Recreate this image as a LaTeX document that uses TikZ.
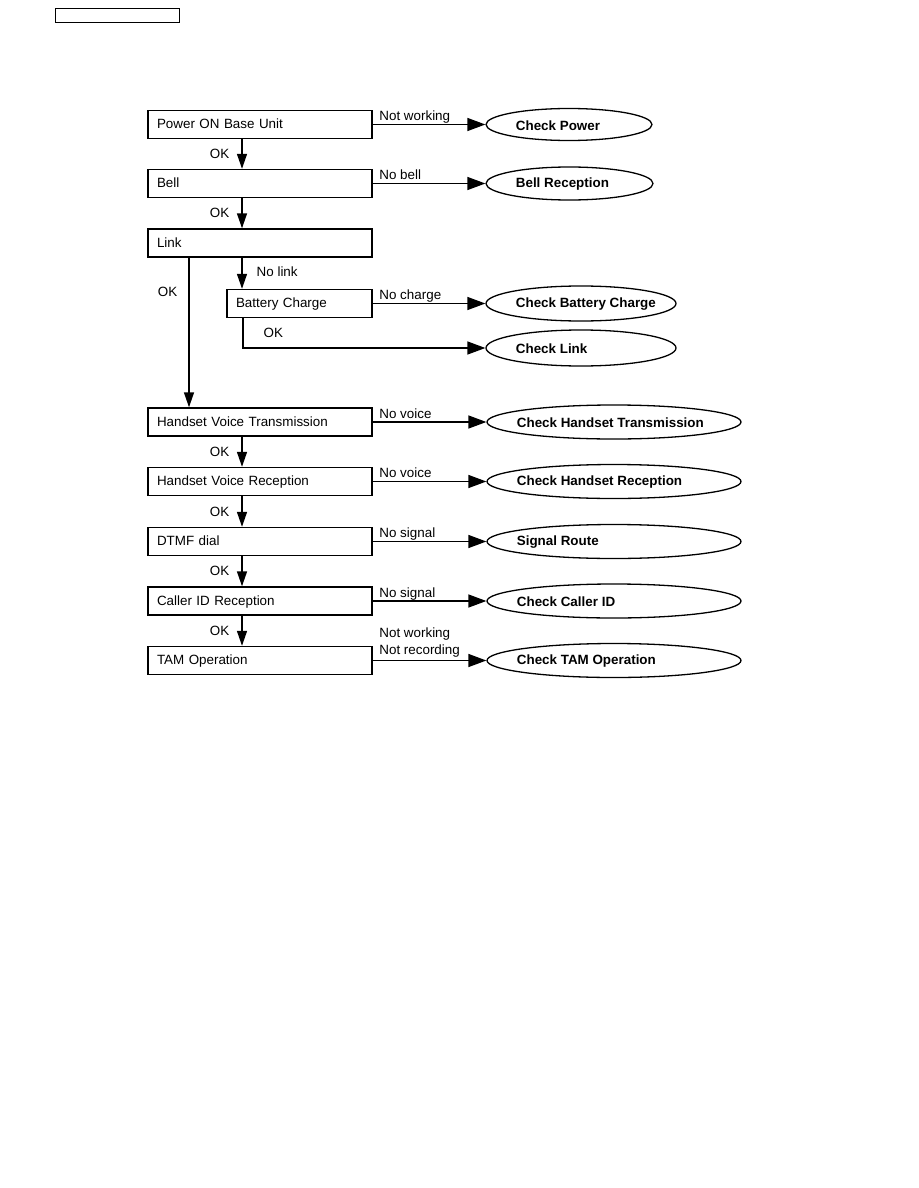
\documentclass[tikz,border=0pt]{standalone}
\usepackage{fontspec}
\setmainfont{Liberation Sans}
\usetikzlibrary{arrows.meta,shapes.geometric}
\begin{document}
\begin{tikzpicture}[x=1pt,y=-1pt,
  txt/.style={font=\fontsize{13.4}{17}\selectfont, inner sep=2pt},
  box/.style={draw, line width=1.4pt, minimum height=28pt, text width=#1, align=left,
    inner xsep=9pt, inner ysep=0pt, text height=9.6pt, text depth=1pt, font=\fontsize{13.4}{17}\selectfont},
  oval/.style={draw, ellipse, line width=1.3pt, minimum width=#1, minimum height=34pt, inner sep=0pt},
  olbl/.style={label={[anchor=west, xshift=27pt, yshift=-1pt, font=\bfseries\fontsize{13.4}{17}\selectfont]west:#1}},
  harr/.style={line width=1.4pt, -{Triangle[length=18pt,width=13pt]}},
  varr/.style={line width=1.4pt, -{Triangle[length=15pt,width=10pt]}},
  hlbl/.style={txt, anchor=base west, xshift=4pt, yshift=4pt},
  ok/.style={txt}
]
\useasboundingbox (0,0) rectangle (918,1188);

\node[draw, line width=1pt, minimum width=124pt, minimum height=14pt, inner sep=0pt] (hdr) at (117,16) {};

% boxes
\node[box=206pt] (pow)  at (260,124.5) {Power ON Base Unit};
\node[box=206pt] (bell) at (260,183.5) {Bell};
\node[box=206pt] (link) at (260,243)   {Link};
\node[box=127pt] (batt) at (299.5,303.5) {Battery Charge};
\node[box=206pt] (hvt)  at (260,422)   {Handset Voice Transmission};
\node[box=206pt] (hvr)  at (260,481.5) {Handset Voice Reception};
\node[box=206pt] (dtmf) at (260,541.5) {DTMF dial};
\node[box=206pt] (cid)  at (260,601)   {Caller ID Reception};
\node[box=206pt] (tam)  at (260,660.5) {TAM Operation};

% ellipses
\node[oval=166pt, minimum height=32pt, olbl={Check Power}] (e1) at (569,124.5) {};
\node[oval=167pt, minimum height=33pt, olbl={Bell Reception}] (e2) at (569.5,183.5) {};
\node[oval=190pt, minimum height=35pt, olbl={Check Battery Charge}] (e3) at (581,303.5) {};
\node[oval=190pt, minimum height=36pt, olbl={Check Link}] (e4) at (581,348) {};
\node[oval=254pt, olbl={Check Handset Transmission}] (e5) at (614,422) {};
\node[oval=254pt, olbl={Check Handset Reception}] (e6) at (614,481.5) {};
\node[oval=254pt, olbl={Signal Route}] (e7) at (614,541.5) {};
\node[oval=254pt, olbl={Check Caller ID}] (e8) at (614,601) {};
\node[oval=254pt, olbl={Check TAM Operation}] (e9) at (614,660.5) {};

% horizontal connectors
\draw[harr] (pow.east)  -- (e1.west) node[pos=0, hlbl] {Not working};
\draw[harr] (bell.east) -- (e2.west) node[pos=0, hlbl] {No bell};
\draw[harr] (batt.east) -- (e3.west) node[pos=0, hlbl] {No charge};
\draw[harr] (hvt.east)  -- (e5.west) node[pos=0, hlbl] {No voice};
\draw[harr] (hvr.east)  -- (e6.west) node[pos=0, hlbl] {No voice};
\draw[harr] (dtmf.east) -- (e7.west) node[pos=0, hlbl] {No signal};
\draw[harr] (cid.east)  -- (e8.west) node[pos=0, hlbl] {No signal};
\draw[harr] (tam.east)  -- (e9.west) node[pos=0, txt, anchor=south west, xshift=4pt, yshift=1pt, align=left] {Not working\\Not recording};

% vertical connectors
\draw[varr] ([xshift=-18pt]pow.south) -- ([xshift=-18pt]bell.north) node[midway, ok, left=10pt] {OK};
\draw[varr] ([xshift=-18pt]bell.south) -- ([xshift=-18pt]link.north) node[midway, ok, left=10pt] {OK};
\draw[varr] ([xshift=-18pt]link.south) -- ([xshift=-18pt]link.south |- batt.north) node[pos=0.45, ok, right=12pt] {No link};
\draw[varr] ([xshift=-71pt]link.south) -- ([xshift=-71pt]hvt.north) node[pos=0.23, ok, left=9pt] {OK};
\draw[harr] ([xshift=-56.5pt]batt.south) |- (e4.west) node[pos=0.25, ok, right=18pt] {OK};
\draw[varr] ([xshift=-18pt]hvt.south) -- ([xshift=-18pt]hvr.north) node[midway, ok, left=10pt] {OK};
\draw[varr] ([xshift=-18pt]hvr.south) -- ([xshift=-18pt]dtmf.north) node[midway, ok, left=10pt] {OK};
\draw[varr] ([xshift=-18pt]dtmf.south) -- ([xshift=-18pt]cid.north) node[midway, ok, left=10pt] {OK};
\draw[varr] ([xshift=-18pt]cid.south) -- ([xshift=-18pt]tam.north) node[midway, ok, left=10pt] {OK};
\end{tikzpicture}
\end{document}
